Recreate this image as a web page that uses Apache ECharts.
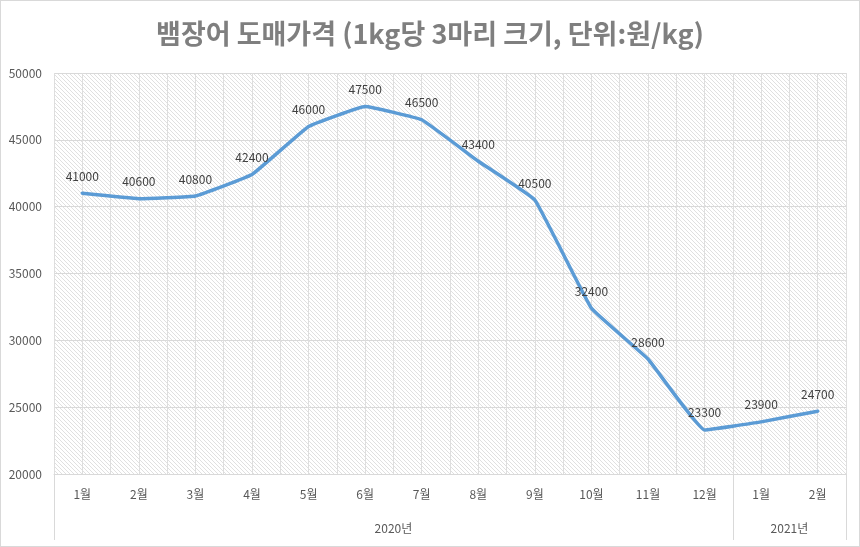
<!DOCTYPE html>
<html><head><meta charset="utf-8">
<script src="https://cdn.jsdelivr.net/npm/echarts@6/dist/echarts.min.js"></script>
<style>
html,body{margin:0;padding:0;background:#fff;}
#wrap{position:absolute;left:0;top:0;width:858px;height:545px;border:1px solid #d9d9d9;}
#chart{width:860px;height:547px;position:absolute;left:0;top:0;}
</style></head>
<body><div id="wrap"></div><div id="chart"></div>
<script>
const titleText = '뱀장어 도매가격 (1kg당 3마리 크기, 단위:원/kg)';
const months = ['1월','2월','3월','4월','5월','6월','7월','8월','9월','10월','11월','12월','1월','2월'];
const prices = [41000,40600,40800,42400,46000,47500,46500,43400,40500,32400,28600,23300,23900,24700];
const groups = [{name:'2020년', start:0, end:12},{name:'2021년', start:12, end:14}];

// hatch pattern
const pc = document.createElement('canvas');
pc.width = 8; pc.height = 8;
const g = pc.getContext('2d');
g.fillStyle = '#ffffff'; g.fillRect(0,0,8,8);
g.strokeStyle = '#e0e0e0'; g.lineWidth = 1;
for (let k = -8; k <= 8; k += 4) {
  g.beginPath(); g.moveTo(k, 0); g.lineTo(k + 8, 8); g.stroke();
}

const groupCenters = groups.map(d => (d.start + d.end) / 2);
const groupEdges = [0].concat(groups.map(d => d.end));

const chart = echarts.init(document.getElementById('chart'), null, {renderer:'canvas'});
chart.setOption({
  animation:false,
  backgroundColor:'transparent',
  title:{text:titleText, left:'center', top:15,
    textStyle:{fontFamily:'Noto Sans CJK KR', fontSize:27, fontWeight:'bold', color:'#7f7f7f'}},
  grid:{left:54, right:14, top:73, bottom:73, show:true,
    backgroundColor:{image:pc, repeat:'repeat'}, borderWidth:0},
  xAxis:[
    {type:'category', data:months, boundaryGap:true, position:'bottom',
      axisLine:{show:true, lineStyle:{color:'#d9d9d9', width:1}},
      axisTick:{show:false},
      axisLabel:{margin:14, fontSize:12, color:'#595959', fontFamily:'Noto Sans CJK KR', interval:0},
      splitLine:{show:false}},
    {type:'value', min:0, max:14, interval:0.5, position:'bottom',
      axisLine:{show:false}, axisTick:{show:false}, axisLabel:{show:false},
      splitLine:{show:true, lineStyle:{color:'#dedede', width:1}}},
    {type:'value', min:0, max:14, position:'bottom',
      axisLine:{show:false},
      axisTick:{show:true, customValues:groupEdges, length:66, lineStyle:{color:'#d9d9d9', width:1}},
      axisLabel:{show:true, customValues:groupCenters, margin:48, fontSize:12, color:'#595959',
        fontFamily:'Noto Sans CJK KR',
        formatter:function(v){ for (const d of groups) { if ((d.start+d.end)/2===v) return d.name; } return ''; }},
      splitLine:{show:false}}
  ],
  yAxis:{type:'value', min:20000, max:50000, interval:5000,
    axisLine:{show:false}, axisTick:{show:false},
    axisLabel:{margin:12, fontSize:12, color:'#595959', fontFamily:'Noto Sans CJK KR',
      formatter:function(v){ return String(v); }},
    splitLine:{show:true, lineStyle:{color:'#d9d9d9', width:1}}},
  series:[{
    type:'line', data:prices, xAxisIndex:0, smooth:0.08,
    symbol:'circle', symbolSize:2, showSymbol:true,
    itemStyle:{color:'rgba(91,155,213,0)', borderWidth:0},
    lineStyle:{color:'#5b9bd5', width:3.5, cap:'round', join:'round'},
    label:{show:true, position:'top', distance:10, fontSize:12, color:'#404040', fontFamily:'Noto Sans CJK KR'},
    labelLayout:{hideOverlap:false}
  }]
});
</script></body></html>
